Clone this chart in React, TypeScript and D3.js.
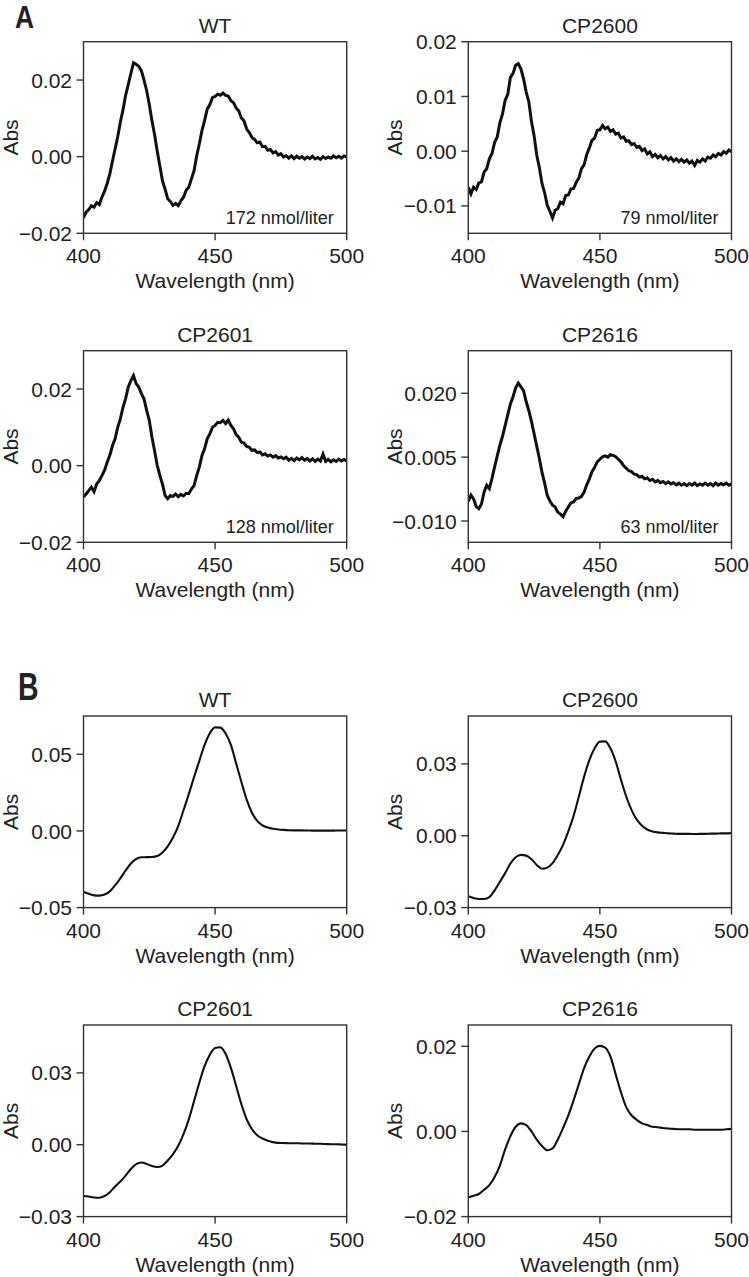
import React from 'react';
import * as d3 from 'd3';

// ---------- DATA ----------
const wavelengthA = [
  400, 401, 402, 403, 404, 405, 406, 407, 408, 409, 410, 411, 412, 413, 414, 415, 416, 417, 418, 419,
  420, 421, 422, 423, 424, 425, 426, 427, 428, 429, 430, 431, 432, 433, 434, 435, 436, 437, 438, 439,
  440, 441, 442, 443, 444, 445, 446, 447, 448, 449, 450, 451, 452, 453, 454, 455, 456, 457, 458, 459,
  460, 461, 462, 463, 464, 465, 466, 467, 468, 469, 470, 471, 472, 473, 474, 475, 476, 477, 478, 479,
  480, 481, 482, 483, 484, 485, 486, 487, 488, 489, 490, 491, 492, 493, 494, 495, 496, 497, 498, 499, 500,
];

const wavelengthB = [
  400, 402, 404, 406, 408, 410, 412, 414, 416, 418, 420, 422, 424, 426, 428, 430, 432, 434, 436, 438,
  440, 442, 444, 446, 448, 450, 452, 454, 456, 458, 460, 462, 464, 466, 468, 470, 472, 474, 476, 478,
  480, 482, 484, 486, 488, 490, 492, 494, 496, 498, 500,
];

const absA_WT = [
  -0.0160, -0.0145, -0.0138, -0.0128, -0.0132, -0.0120, -0.0125, -0.0106, -0.0090, -0.0070,
  -0.0045, -0.0012, 0.0020, 0.0052, 0.0090, 0.0122, 0.0160, 0.0188, 0.0217, 0.0245,
  0.0241, 0.0236, 0.0224, 0.0200, 0.0172, 0.0136, 0.0094, 0.0058, 0.0015, -0.0024,
  -0.0063, -0.0085, -0.0110, -0.0117, -0.0127, -0.0122, -0.0128, -0.0115, -0.0106, -0.0088,
  -0.0080, -0.0058, -0.0037, 0.0002, 0.0033, 0.0068, 0.0094, 0.0124, 0.0136, 0.0154,
  0.0157, 0.0163, 0.0160, 0.0166, 0.0160, 0.0158, 0.0146, 0.0141, 0.0127, 0.0119,
  0.0101, 0.0093, 0.0072, 0.0063, 0.0050, 0.0045, 0.0036, 0.0038, 0.0026, 0.0027,
  0.0017, 0.0019, 0.0010, 0.0013, 0.0004, 0.0008, -0.0001, 0.0003, -0.0004, 0.0002,
  -0.0005, 0.0001, -0.0004, 0.0000, -0.0006, -0.0001, -0.0005, 0.0001, -0.0006, -0.0002,
  -0.0007, 0.0000, -0.0005, -0.0001, -0.0004, 0.0002, -0.0003, 0.0001, -0.0004, 0.0002, -0.0001,
];

const absA_CP2600 = [
  -0.0066, -0.0078, -0.0066, -0.0070, -0.0058, -0.0056, -0.0038, -0.0032, -0.0014, -0.0004,
  0.0016, 0.0026, 0.0052, 0.0068, 0.0093, 0.0104, 0.0135, 0.0142, 0.0157, 0.0160,
  0.0150, 0.0132, 0.0108, 0.0090, 0.0054, 0.0028, -0.0007, -0.0030, -0.0059, -0.0076,
  -0.0099, -0.0110, -0.0122, -0.0108, -0.0105, -0.0093, -0.0096, -0.0081, -0.0080, -0.0069,
  -0.0068, -0.0057, -0.0049, -0.0032, -0.0025, -0.0006, 0.0006, 0.0020, 0.0024, 0.0038,
  0.0039, 0.0047, 0.0041, 0.0044, 0.0036, 0.0039, 0.0031, 0.0033, 0.0024, 0.0026,
  0.0018, 0.0019, 0.0012, 0.0014, 0.0007, 0.0009, 0.0001, 0.0004, -0.0005, -0.0001,
  -0.0010, -0.0006, -0.0012, -0.0008, -0.0014, -0.0010, -0.0016, -0.0012, -0.0018, -0.0014,
  -0.0019, -0.0015, -0.0020, -0.0016, -0.0022, -0.0018, -0.0026, -0.0017, -0.0020, -0.0014,
  -0.0018, -0.0011, -0.0013, -0.0007, -0.0010, -0.0004, -0.0007, -0.0001, -0.0004, 0.0002, -0.0001,
];

const absA_CP2601 = [
  -0.0082, -0.0074, -0.0065, -0.0056, -0.0068, -0.0048, -0.0039, -0.0026, -0.0012, 0.0009,
  0.0027, 0.0052, 0.0070, 0.0100, 0.0122, 0.0152, 0.0175, 0.0205, 0.0222, 0.0235,
  0.0214, 0.0205, 0.0188, 0.0174, 0.0144, 0.0118, 0.0075, 0.0039, 0.0001, -0.0025,
  -0.0048, -0.0078, -0.0086, -0.0078, -0.0080, -0.0074, -0.0081, -0.0075, -0.0079, -0.0072,
  -0.0073, -0.0061, -0.0052, -0.0026, -0.0004, 0.0026, 0.0044, 0.0070, 0.0083, 0.0100,
  0.0105, 0.0113, 0.0112, 0.0118, 0.0110, 0.0119, 0.0105, 0.0096, 0.0081, 0.0074,
  0.0061, 0.0059, 0.0050, 0.0048, 0.0040, 0.0041, 0.0034, 0.0036, 0.0028, 0.0031,
  0.0025, 0.0028, 0.0022, 0.0026, 0.0020, 0.0023, 0.0018, 0.0022, 0.0014, 0.0019,
  0.0013, 0.0020, 0.0015, 0.0021, 0.0014, 0.0019, 0.0012, 0.0018, 0.0011, 0.0017,
  0.0012, 0.0030, 0.0011, 0.0016, 0.0010, 0.0015, 0.0011, 0.0017, 0.0012, 0.0016, 0.0012,
];

const absA_CP2616 = [
  -0.0054, -0.0039, -0.0048, -0.0066, -0.0071, -0.0060, -0.0032, -0.0016, -0.0024, 0.0000,
  0.0027, 0.0053, 0.0078, 0.0099, 0.0124, 0.0150, 0.0175, 0.0192, 0.0213, 0.0224,
  0.0215, 0.0206, 0.0180, 0.0159, 0.0134, 0.0105, 0.0076, 0.0047, 0.0014, -0.0011,
  -0.0040, -0.0053, -0.0063, -0.0067, -0.0079, -0.0084, -0.0090, -0.0077, -0.0067, -0.0057,
  -0.0055, -0.0047, -0.0046, -0.0042, -0.0032, -0.0015, -0.0001, 0.0016, 0.0026, 0.0039,
  0.0045, 0.0051, 0.0053, 0.0050, 0.0056, 0.0054, 0.0051, 0.0045, 0.0039, 0.0030,
  0.0024, 0.0018, 0.0016, 0.0010, 0.0009, 0.0003, 0.0005, -0.0001, 0.0001, -0.0005,
  -0.0002, -0.0008, -0.0005, -0.0010, -0.0007, -0.0012, -0.0008, -0.0013, -0.0010, -0.0015,
  -0.0011, -0.0016, -0.0012, -0.0017, -0.0012, -0.0016, -0.0011, -0.0017, -0.0013, -0.0016,
  -0.0011, -0.0016, -0.0012, -0.0017, -0.0011, -0.0016, -0.0012, -0.0015, -0.0011, -0.0016, -0.0013,
];

const absB_WT = [
  -0.0398, -0.0410, -0.0420, -0.0422, -0.0415, -0.0394, -0.0355, -0.0309, -0.0258, -0.0212,
  -0.0183, -0.0172, -0.0171, -0.0170, -0.0164, -0.0140, -0.0100, -0.0043, 0.0032, 0.0135,
  0.0240, 0.0351, 0.0457, 0.0562, 0.0638, 0.0676, 0.0674, 0.0636, 0.0562, 0.0440,
  0.0319, 0.0204, 0.0119, 0.0066, 0.0037, 0.0022, 0.0014, 0.0010, 0.0007, 0.0005,
  0.0004, 0.0004, 0.0003, 0.0003, 0.0002, 0.0002, 0.0002, 0.0002, 0.0003, 0.0003, 0.0003,
];

const absB_CP2600 = [
  -0.0253, -0.0260, -0.0264, -0.0264, -0.0256, -0.0228, -0.0192, -0.0156, -0.0116, -0.0090,
  -0.0080, -0.0083, -0.0098, -0.0122, -0.0138, -0.0133, -0.0114, -0.0080, -0.0038, 0.0018,
  0.0083, 0.0164, 0.0247, 0.0316, 0.0365, 0.0393, 0.0394, 0.0365, 0.0310, 0.0234,
  0.0164, 0.0108, 0.0067, 0.0042, 0.0026, 0.0018, 0.0014, 0.0012, 0.0010, 0.0009,
  0.0008, 0.0008, 0.0008, 0.0007, 0.0008, 0.0008, 0.0009, 0.0009, 0.0010, 0.0010, 0.0011,
];

const absB_CP2601 = [
  -0.0214, -0.0216, -0.0220, -0.0221, -0.0214, -0.0198, -0.0174, -0.0153, -0.0129, -0.0101,
  -0.0081, -0.0074, -0.0080, -0.0089, -0.0093, -0.0087, -0.0066, -0.0039, -0.0004, 0.0044,
  0.0106, 0.0182, 0.0259, 0.0328, 0.0376, 0.0404, 0.0407, 0.0379, 0.0321, 0.0245,
  0.0169, 0.0106, 0.0065, 0.0040, 0.0026, 0.0017, 0.0011, 0.0008, 0.0007, 0.0006,
  0.0006, 0.0006, 0.0005, 0.0005, 0.0004, 0.0004, 0.0003, 0.0002, 0.0002, 0.0001, 0.0000,
];

const absB_CP2616 = [
  -0.0155, -0.0151, -0.0147, -0.0137, -0.0126, -0.0107, -0.0080, -0.0042, -0.0011, 0.0011,
  0.0019, 0.0015, 0.0000, -0.0019, -0.0034, -0.0044, -0.0040, -0.0019, 0.0008, 0.0038,
  0.0073, 0.0111, 0.0149, 0.0176, 0.0195, 0.0201, 0.0197, 0.0176, 0.0134, 0.0092,
  0.0057, 0.0038, 0.0027, 0.0019, 0.0015, 0.0011, 0.0010, 0.0008, 0.0007, 0.0006,
  0.0005, 0.0005, 0.0005, 0.0004, 0.0004, 0.0004, 0.0004, 0.0004, 0.0004, 0.0005, 0.0006,
];

const xTicks = [400, 450, 500];
const yTicksA_WT = [-0.02, 0, 0.02];
const yTicksA_CP2600 = [-0.01, 0, 0.01, 0.02];
const yTicksA_CP2601 = [-0.02, 0, 0.02];
const yTicksA_CP2616 = [-0.01, 0.005, 0.02];
const yTicksB_WT = [-0.05, 0, 0.05];
const yTicksB_CP2600 = [-0.03, 0, 0.03];
const yTicksB_CP2601 = [-0.03, 0, 0.03];
const yTicksB_CP2616 = [-0.02, 0, 0.02];

const notesA = ['172 nmol/liter', '79 nmol/liter', '128 nmol/liter', '63 nmol/liter'];
const titles = ['WT', 'CP2600', 'CP2601', 'CP2616'];

// ---------- LAYOUT ----------
const W = 749;
const H = 1277;
const colLeft = [83.5, 468.3];
const rowTop = [41.7, 350.7, 716, 1025];
const PW = 263.2;
const PH = 191.6;
const FONT = '"Liberation Sans", Arial, Helvetica, sans-serif';

type PanelProps = {
  id: string;
  x0: number;
  y0: number;
  title: string;
  xs: number[];
  ys: number[];
  domain: [number, number];
  ticks: number[];
  fmt: string;
  note?: string;
  noisy: boolean;
};

function Panel({ id, x0, y0, title, xs, ys, domain, ticks, fmt, note, noisy }: PanelProps) {
  const x = d3.scaleLinear().domain([400, 500]).range([x0, x0 + PW]);
  const y = d3.scaleLinear().domain(domain).range([y0 + PH, y0]);
  const line = d3
    .line<number>()
    .x((_, i) => x(xs[i]))
    .y((d) => y(d))
    .curve(noisy ? d3.curveLinear : d3.curveMonotoneX);
  const f = d3.format(fmt);
  const axisColor = '#333';
  const tickLen = 7;
  return (
    <g>
      <defs>
        <clipPath id={`clip-${id}`}>
          <rect x={x0} y={y0} width={PW} height={PH} />
        </clipPath>
      </defs>
      <text x={x0 + PW / 2} y={y0 - 9} textAnchor="middle" fontSize={21} fill="#222" fontFamily={FONT}>
        {title}
      </text>
      <path
        d={line(ys) || ''}
        fill="none"
        stroke="#111"
        strokeWidth={noisy ? 3 : 2.1}
        strokeLinejoin="miter"
        clipPath={`url(#clip-${id})`}
      />
      <rect x={x0} y={y0} width={PW} height={PH} fill="none" stroke={axisColor} strokeWidth={1.4} />
      {xTicks.map((t) => (
        <g key={`x${t}`}>
          <line x1={x(t)} x2={x(t)} y1={y0 + PH} y2={y0 + PH + tickLen} stroke={axisColor} strokeWidth={1.4} />
          <text x={x(t)} y={y0 + PH + 30} textAnchor="middle" fontSize={21} fill="#222" fontFamily={FONT}>
            {t}
          </text>
        </g>
      ))}
      {ticks.map((t) => (
        <g key={`y${t}`}>
          <line x1={x0 - tickLen} x2={x0} y1={y(t)} y2={y(t)} stroke={axisColor} strokeWidth={1.4} />
          <text
            x={x0 - tickLen - 4.5}
            y={y(t)}
            dy="0.36em"
            textAnchor="end"
            fontSize={21}
            fill="#222"
            fontFamily={FONT}
          >
            {f(t)}
          </text>
        </g>
      ))}
      <text
        transform={`translate(${x0 - 66},${y0 + PH / 2}) rotate(-90)`}
        textAnchor="middle"
        fontSize={21}
        fill="#222"
        fontFamily={FONT}
      >
        Abs
      </text>
      <text x={x0 + PW / 2} y={y0 + PH + 55} textAnchor="middle" fontSize={21} fill="#222" fontFamily={FONT}>
        Wavelength (nm)
      </text>
      {note && (
        <text x={x0 + PW - 13} y={y0 + PH - 9.5} textAnchor="end" fontSize={18} fill="#222" fontFamily={FONT}>
          {note}
        </text>
      )}
    </g>
  );
}

export default function App() {
  const panels: PanelProps[] = [
    { id: 'a0', x0: colLeft[0], y0: rowTop[0], title: titles[0], xs: wavelengthA, ys: absA_WT, domain: [-0.02, 0.03], ticks: yTicksA_WT, fmt: '.2f', note: notesA[0], noisy: true },
    { id: 'a1', x0: colLeft[1], y0: rowTop[0], title: titles[1], xs: wavelengthA, ys: absA_CP2600, domain: [-0.015, 0.02], ticks: yTicksA_CP2600, fmt: '.2f', note: notesA[1], noisy: true },
    { id: 'a2', x0: colLeft[0], y0: rowTop[1], title: titles[2], xs: wavelengthA, ys: absA_CP2601, domain: [-0.02, 0.03], ticks: yTicksA_CP2601, fmt: '.2f', note: notesA[2], noisy: true },
    { id: 'a3', x0: colLeft[1], y0: rowTop[1], title: titles[3], xs: wavelengthA, ys: absA_CP2616, domain: [-0.015, 0.03], ticks: yTicksA_CP2616, fmt: '.3f', note: notesA[3], noisy: true },
    { id: 'b0', x0: colLeft[0], y0: rowTop[2], title: titles[0], xs: wavelengthB, ys: absB_WT, domain: [-0.05, 0.075], ticks: yTicksB_WT, fmt: '.2f', noisy: false },
    { id: 'b1', x0: colLeft[1], y0: rowTop[2], title: titles[1], xs: wavelengthB, ys: absB_CP2600, domain: [-0.03, 0.05], ticks: yTicksB_CP2600, fmt: '.2f', noisy: false },
    { id: 'b2', x0: colLeft[0], y0: rowTop[3], title: titles[2], xs: wavelengthB, ys: absB_CP2601, domain: [-0.03, 0.05], ticks: yTicksB_CP2601, fmt: '.2f', noisy: false },
    { id: 'b3', x0: colLeft[1], y0: rowTop[3], title: titles[3], xs: wavelengthB, ys: absB_CP2616, domain: [-0.02, 0.025], ticks: yTicksB_CP2616, fmt: '.2f', noisy: false },
  ];
  return (
    <svg
      width={W}
      height={H}
      viewBox={`0 0 ${W} ${H}`}
      style={{ position: 'absolute', left: 0, top: 0, background: '#fff' }}
    >
      <rect x={0} y={0} width={W} height={H} fill="#fff" />
      <text x={15} y={28} fontSize={31} fontWeight="bold" fill="#222" fontFamily={FONT} transform="translate(15,0) scale(0.85,1) translate(-15,0)">
        A
      </text>
      <text x={18} y={700} fontSize={38} fontWeight="bold" fill="#222" fontFamily={FONT} transform="translate(18,0) scale(0.75,1) translate(-18,0)">
        B
      </text>
      {panels.map((p) => (
        <Panel key={p.id} {...p} />
      ))}
    </svg>
  );
}
